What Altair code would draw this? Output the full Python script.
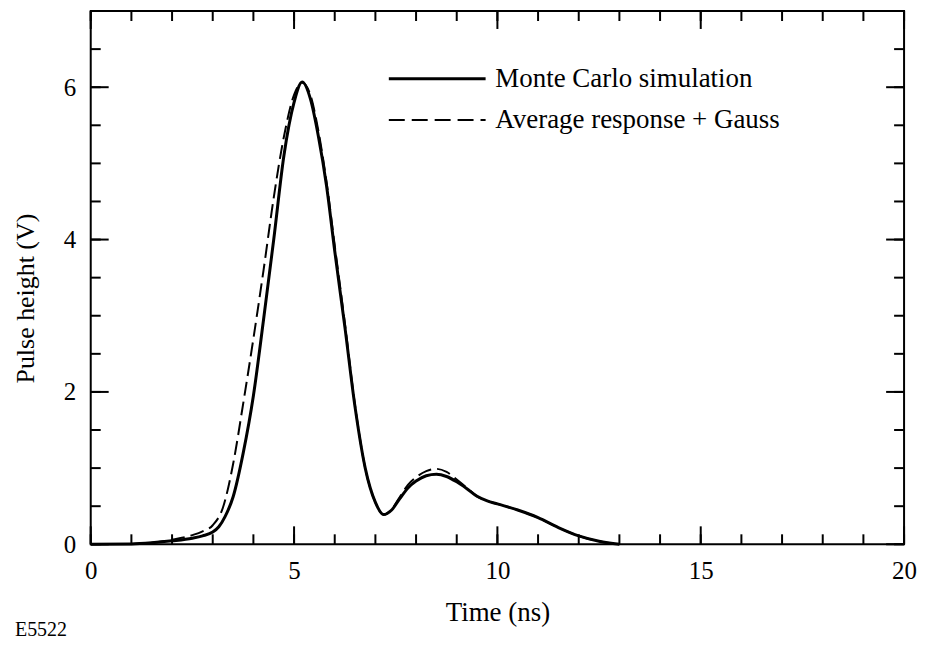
import altair as alt
import pandas as pd

# ---------------- data ----------------
mc_t = [0, 1, 1.5, 2, 2.5, 2.75, 3, 3.15, 3.3, 3.5, 3.75, 4, 4.25, 4.5, 4.75, 5, 5.2, 5.4,
        5.6, 5.8, 6, 6.25, 6.5, 6.75, 7, 7.2, 7.4, 7.6, 7.8, 8, 8.25, 8.5, 8.75, 9, 9.25,
        9.5, 9.75, 10, 10.5, 11, 11.5, 12, 12.5, 13]
mc_v = [0, 0.005, 0.02, 0.045, 0.08, 0.11, 0.16, 0.23, 0.36, 0.62, 1.2, 1.95, 2.95, 4.0,
        5.1, 5.8, 6.07, 5.85, 5.35, 4.7, 3.85, 2.85, 1.8, 1.0, 0.55, 0.39, 0.45, 0.6, 0.74,
        0.83, 0.9, 0.92, 0.89, 0.82, 0.73, 0.63, 0.57, 0.53, 0.45, 0.35, 0.22, 0.11, 0.04,
        0.0]

av_t = [1, 1.5, 2, 2.5, 2.75, 3, 3.25, 3.5, 3.75, 4, 4.25, 4.5, 4.75, 5, 5.2, 5.4, 5.6,
        5.8, 6, 6.25, 6.5, 6.75, 7, 7.2, 7.4, 7.6, 7.8, 8, 8.25, 8.5, 8.75, 9, 9.25, 9.5,
        9.75, 10, 10.5, 11, 11.5, 12, 12.5, 13]
av_v = [0.005, 0.02, 0.06, 0.12, 0.17, 0.25, 0.48, 1.05, 1.85, 2.7, 3.6, 4.55, 5.35, 5.9,
        6.06, 5.9, 5.42, 4.75, 3.92, 2.9, 1.82, 1.0, 0.55, 0.39, 0.46, 0.62, 0.78, 0.88,
        0.96, 0.99, 0.95, 0.85, 0.74, 0.63, 0.57, 0.53, 0.45, 0.35, 0.22, 0.11, 0.04, 0.0]

x_labels = [0, 5, 10, 15, 20]
x_minor = list(range(0, 21))
y_labels = [0, 2, 4, 6]
y_minor = [i * 0.5 for i in range(0, 15)]

legend_labels = ["Monte Carlo simulation", "Average response + Gauss"]
legend_y = [6.11, 5.57]
legend_x1, legend_x2, legend_xt = 7.33, 9.71, 9.95

x_title = "Time (ns)"
y_title = "Pulse height (V)"
fig_id = "E5522"

# ---------------- layout ----------------
W, H = 816, 535
FONT = "Liberation Serif"

xscale = alt.Scale(domain=[0, 20], nice=False, zero=False)
yscale = alt.Scale(domain=[0, 7], nice=False, zero=False)

x_axis = alt.Axis(values=x_labels, ticks=False, tickSize=0, domain=False, grid=False,
                  labelFont=FONT, labelFontSize=25, labelColor="black", labelPadding=14,
                  labelFlush=False, labelOverlap=False,
                  title=x_title, titleFont=FONT, titleFontSize=27, titleFontWeight="normal",
                  titleColor="black", titleBaseline="middle", titleY=68)
y_axis = alt.Axis(values=y_labels, ticks=False, tickSize=0, domain=False, grid=False,
                  labelFont=FONT, labelFontSize=25, labelColor="black", labelPadding=15,
                  labelFlush=False, labelOverlap=False,
                  title=y_title, titleFont=FONT, titleFontSize=26, titleFontWeight="normal",
                  titleColor="black", titleBaseline="middle", titleX=-65, titleY=288,
                  titleAngle=270)

def X(field):
    return alt.X(field, scale=xscale, axis=x_axis)

def Y(field):
    return alt.Y(field, scale=yscale, axis=y_axis)

df_mc = pd.DataFrame({"t": mc_t, "v": mc_v})
df_av = pd.DataFrame({"t": av_t, "v": av_v})

dashed = alt.Chart(df_av).mark_line(color="black", strokeWidth=2, strokeDash=[14, 6],
                                    interpolate="monotone").encode(
    x=X("t:Q"), y=Y("v:Q"))
solid = alt.Chart(df_mc).mark_line(color="black", strokeWidth=3,
                                   interpolate="monotone").encode(
    x=X("t:Q"), y=Y("v:Q"))

# inward ticks on all four sides
df_xmin = pd.DataFrame({"t": x_minor})
df_xmaj = pd.DataFrame({"t": x_labels})
df_ymin = pd.DataFrame({"v": y_minor})
df_ymaj = pd.DataFrame({"v": y_labels})

def xticks(df, y0, y1):
    return alt.Chart(df).mark_rule(color="black", strokeWidth=2).encode(
        x=X("t:Q"), y=alt.value(y0), y2=alt.value(y1))

def yticks(df, x0, x1):
    return alt.Chart(df).mark_rule(color="black", strokeWidth=2).encode(
        y=Y("v:Q"), x=alt.value(x0), x2=alt.value(x1))

ticks = [
    xticks(df_xmin, H, H - 10), xticks(df_xmaj, H, H - 18),
    xticks(df_xmin, 0, 10), xticks(df_xmaj, 0, 18),
    yticks(df_ymin, 0, 10), yticks(df_ymaj, 0, 18),
    yticks(df_ymin, W, W - 10), yticks(df_ymaj, W, W - 18),
]

# legend
df_leg = pd.DataFrame({"x1": [legend_x1] * 2, "x2": [legend_x2] * 2,
                       "xt": [legend_xt] * 2, "y": legend_y, "label": legend_labels})
leg_solid = alt.Chart(df_leg.iloc[[0]]).mark_rule(color="black", strokeWidth=3).encode(
    x=X("x1:Q"), x2="x2:Q", y=Y("y:Q"))
leg_dash = alt.Chart(df_leg.iloc[[1]]).mark_rule(color="black", strokeWidth=2,
                                                 strokeDash=[16, 7]).encode(
    x=X("x1:Q"), x2="x2:Q", y=Y("y:Q"))
leg_text = alt.Chart(df_leg).mark_text(align="left", baseline="middle", font=FONT,
                                       fontSize=27, color="black").encode(
    x=X("xt:Q"), y=Y("y:Q"), text="label:N")

fig_label = alt.Chart(pd.DataFrame({"s": [fig_id]})).mark_text(
    align="left", baseline="middle", font=FONT, fontSize=20, color="black").encode(
    x=alt.value(-76), y=alt.value(621), text="s:N")

chart = alt.layer(dashed, solid, *ticks, leg_solid, leg_dash, leg_text, fig_label).properties(
    width=W, height=H,
    autosize=alt.AutoSizeParams(type="none"),
    padding={"left": 83, "top": 2, "right": 20, "bottom": 95},
    background="white",
).configure_view(stroke="black", strokeWidth=2)

chart.save("out.html", embed_options={"renderer": "svg", "actions": False})
